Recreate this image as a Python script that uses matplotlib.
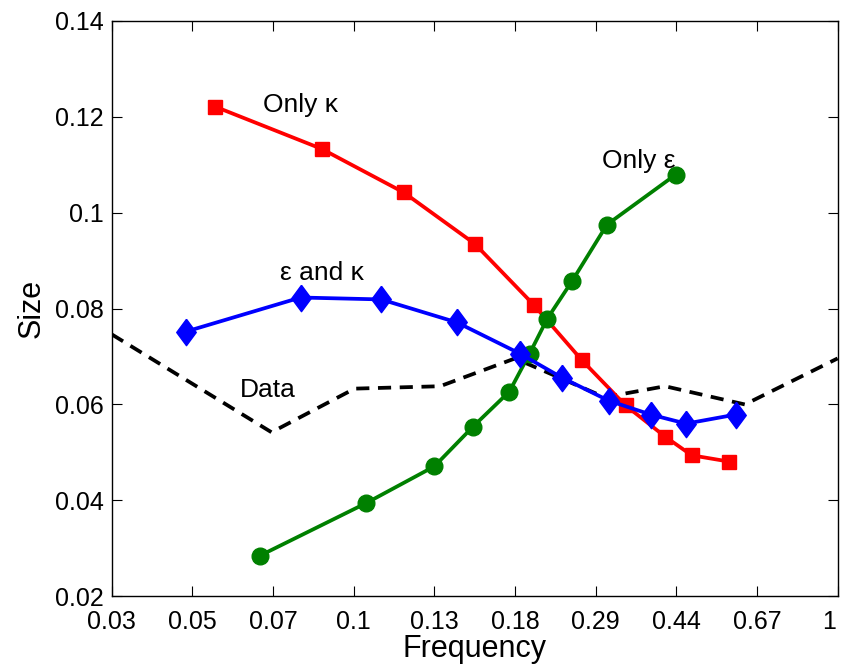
import matplotlib.pyplot as plt
import matplotlib.transforms as mtransforms
import numpy as np

plt.rcParams['font.family'] = ['Liberation Sans', 'DejaVu Sans']

# tick labels on the frequency axis (equally spaced positions)
freq_labels = ['0.03', '0.05', '0.07', '0.1', '0.13', '0.18', '0.29', '0.44', '0.67', '1']

# only kappa (red squares)
kappa_x = [1.28, 2.60, 3.62, 4.50, 5.23, 5.83, 6.37, 6.86, 7.19, 7.65]
kappa_y = [0.1221, 0.1133, 0.1042, 0.0935, 0.0808, 0.0692, 0.0598, 0.0533, 0.0494, 0.0481]

# only epsilon (green circles)
eps_x = [1.84, 3.15, 4.00, 4.48, 4.93, 5.18, 5.40, 5.71, 6.14, 6.99]
eps_y = [0.0285, 0.0394, 0.0471, 0.0554, 0.0627, 0.0706, 0.0779, 0.0858, 0.0975, 0.1079]

# epsilon and kappa (blue diamonds)
both_x = [0.92, 2.34, 3.34, 4.28, 5.06, 5.58, 6.16, 6.68, 7.12, 7.74]
both_y = [0.0752, 0.0823, 0.0819, 0.0771, 0.0706, 0.0656, 0.0608, 0.0579, 0.0560, 0.0579]

# data (black dashed)
data_x = [0.0, 1.98, 3.01, 4.07, 5.00, 6.11, 6.86, 7.85, 9.0]
data_y = [0.0746, 0.0542, 0.0633, 0.0638, 0.0696, 0.0615, 0.0638, 0.0600, 0.0696]

# matlab-like diamond (taller than wide)
diamond = [(0, 1), (0.74, 0), (0, -1), (-0.74, 0), (0, 1)]

fig = plt.figure(figsize=(8.41, 6.70), dpi=100)
ax = fig.add_axes([0.133, 0.110, 0.863, 0.859])

ax.plot(data_x, data_y, color='k', lw=2.7, linestyle=(0, (3.5, 2.3)))
ax.plot(kappa_x, kappa_y, color='#ff0000', lw=2.7, marker='s', ms=10.5)
ax.plot(eps_x, eps_y, color='#008000', lw=2.7, marker='o', ms=12)
ax.plot(both_x, both_y, color='#0000ff', lw=2.7, marker=diamond, ms=19)

ax.annotate('Only \u03ba', xy=(263 / 841, 1 - 105 / 670), xycoords='figure fraction',
            fontsize=19, va='center', ha='left')
ax.annotate('Only \u03b5', xy=(602 / 841, 1 - 161 / 670), xycoords='figure fraction',
            fontsize=19, va='center', ha='left')
ax.annotate('\u03b5 and \u03ba', xy=(280 / 841, 1 - 273 / 670), xycoords='figure fraction',
            fontsize=19, va='center', ha='left')
ax.annotate('Data', xy=(240 / 841, 1 - 390 / 670), xycoords='figure fraction',
            fontsize=19, va='center', ha='left')

ax.set_xlim(0, 9)
ax.set_ylim(0.02, 0.14)
ax.set_xticks(np.arange(len(freq_labels)))
ax.set_xticklabels(freq_labels)
ax.set_yticks([0.02, 0.04, 0.06, 0.08, 0.1, 0.12, 0.14])
ax.set_yticklabels(['0.02', '0.04', '0.06', '0.08', '0.1', '0.12', '0.14'])
ax.tick_params(direction='in', top=True, right=True, length=7, labelsize=18)
ax.tick_params(axis='x', pad=10)
ax.tick_params(axis='y', pad=6)
for s in ax.spines.values():
    s.set_linewidth(1.0)

# pull the last label inside the figure, as in the original
last = ax.get_xticklabels()[-1]
last.set_transform(last.get_transform() + mtransforms.ScaledTranslation(-9 / 100, 0, fig.dpi_scale_trans))

ax.set_xlabel('Frequency', fontsize=22, labelpad=0)
ax.set_ylabel('Size', fontsize=22, labelpad=6)

fig.savefig('out.png', dpi=100)
